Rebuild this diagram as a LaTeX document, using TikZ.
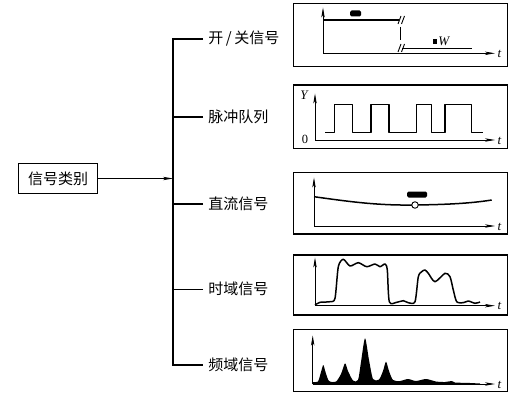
\documentclass[tikz,border=0pt]{standalone}
\usepackage{fontspec}
\setmainfont{Liberation Serif}
\newfontfamily\cjk{Noto Sans CJK SC}
\usetikzlibrary{arrows.meta}
\begin{document}
\begin{tikzpicture}[x=1pt,y=-1pt,
  line width=0.8pt,
  axis/.style={line width=0.8pt,-{Stealth[length=10pt,width=3.4pt,inset=2.5pt]}},
  sig/.style={line width=1.5pt,line join=round},
  sigbox/.style={draw,line width=1.1pt,minimum width=213.5pt,inner sep=0pt},
  lbl/.style={font=\cjk\fontsize{15}{15}\selectfont,anchor=west,inner sep=5pt},
  var/.style={font=\fontsize{13}{13}\selectfont\itshape,inner sep=0pt},
  num/.style={font=\fontsize{12.5}{12.5}\selectfont,inner sep=0pt},
  blob/.style={fill,rounded corners=1.5pt}]
\useasboundingbox (0,0) rectangle (526,401);

% left tree
\node[draw,line width=1.1pt,minimum width=79.5pt,minimum height=30pt,inner sep=0pt,
      font=\cjk\fontsize{15}{15}\selectfont] (cls) at (58,178.5) {信号类别};
\coordinate (bus) at (173,178.5);
\node[lbl] (l1) at (203,39) {开\,/\,关信号};
\node[lbl] (l2) at (203,117) {脉冲队列};
\node[lbl] (l3) at (203,204) {直流信号};
\node[lbl] (l4) at (203,289.3) {时域信号};
\node[lbl] (l5) at (203,365) {频域信号};
\draw[line width=1.1pt] (l1.west) -- (l1.west -| bus) -- (l5.west -| bus) -- (l5.west);
\draw[line width=1.1pt] (l2.west) -- (l2.west -| bus);
\draw[line width=1.1pt] (l3.west) -- (l3.west -| bus);
\draw[line width=1.1pt] (l4.west) -- (l4.west -| bus);
\draw[line width=0.9pt,-{Stealth[length=10pt,width=3.4pt,inset=2.5pt]}] (cls.east) -- (bus);

% signal boxes
\node[sigbox,minimum height=63.4pt] (b1) at (400.3,35) {};
\node[sigbox,minimum height=63.3pt] (b2) at (400.3,116.7) {};
\node[sigbox,minimum height=61.3pt] (b3) at (400.3,203.3) {};
\node[sigbox,minimum height=60pt] (b4) at (400.3,285) {};
\node[sigbox,minimum height=62.4pt] (b5) at (400.3,360.5) {};

% 1: on/off
\coordinate (o1) at (323,53.3);
\draw[axis] (o1) -- (323,7.5);
\draw[axis] (o1) -- (495,53.3);
\node[var] (t1) at (499.5,54) {t};
\draw[sig] (323,20) -- (399,20);
\draw[line width=0.9pt] (398,24) -- (401,16) (401.5,24) -- (404.5,16);
\draw[line width=0.9pt] (400,27) -- (400,40);
\draw[line width=0.9pt] (398,52) -- (401,44) (401.5,52) -- (404.5,44);
\draw[sig] (402,48.5) -- (471.5,48.5);
\fill[blob] (350,10.5) rectangle (361,16.5);
\fill (432.5,39) rectangle (437,44);
\node[var,anchor=west] (w1) at (438,41.5) {W};

% 2: pulse train
\coordinate (o2) at (315,140);
\draw[axis] (o2) -- (315,93.5);
\draw[axis] (o2) -- (495,140);
\node[var] (t2) at (499.5,140.5) {t};
\node[var] (y2) at (304,95) {Y};
\node[num] (z2) at (305,139.5) {0};
\draw[sig] (325,132.7) -- (334.3,132.7) -- (334.3,104.3) -- (352.3,104.3) -- (352.3,132.7)
  -- (371,132.7) -- (371,104.3) -- (389,104.3) -- (389,132.7)
  -- (416.7,132.7) -- (416.7,104.3) -- (431.7,104.3) -- (431.7,132.7)
  -- (445,132.7) -- (445,104.3) -- (471.7,104.3) -- (471.7,132.7) -- (483.3,132.7);

% 3: DC
\coordinate (o3) at (314,226);
\draw[axis] (o3) -- (314,177.5);
\draw[axis] (o3) -- (495,226);
\node[var] (t3) at (499.5,226.5) {t};
\draw[sig] (314,196.7) .. controls (355,202.5) and (380,205.5) .. (415,205)
  .. controls (445,204.6) and (470,203.5) .. (491.7,200);
\node[circle,draw,fill=white,line width=0.9pt,minimum size=6.5pt,inner sep=0pt] (dc) at (415,205) {};
\fill[blob] (407,191.5) rectangle (427,197.5);

% 4: time domain
\coordinate (o4) at (315,305.7);
\draw[axis] (o4) -- (315,257.5);
\draw[axis] (o4) -- (495,305.7);
\node[var] (t4) at (499.5,306.2) {t};
\draw[sig] plot[smooth,tension=0.45] coordinates {
 (315,305) (320,302.3) (330,301.7) (335,298.3) (338.3,266.7) (343.3,259.3) (350,266)
 (358.3,262.7) (366.7,266.7) (375,264) (380,266.7) (385,264) (387.3,270) (389.3,301.7)
 (396.7,302.3) (403.3,300.7) (408.3,302.7) (415,301.7) (418.3,276.7) (421.7,271.7)
 (425,270) (428.3,273.3) (435,281.7) (445,273.3) (450,276.7) (453.3,290) (456.7,301.7)
 (463.3,302.7) (468.3,301) (475,303.3) (480,302)};

% 5: frequency domain
\coordinate (o5) at (312.7,384);
\fill plot[smooth,tension=0.45] coordinates {
 (313,382) (318,381.5) (321,372) (323.3,365) (325.5,372) (329,381) (336,381.5) (341,374)
 (345,363.3) (348,371) (353,380.5) (358,380) (361,362) (365,338.3) (369,360) (373,379)
 (379,379.5) (383,371) (386,361.7) (389,371) (393,380) (400,381) (408,379) (416,381)
 (426,379) (436,381.5) (445,382) (451.7,381) (455,382.5) (470,383) (480,383.5)}
 -- (480,384) -- (313,384) -- cycle;
\draw[axis] (o5) -- (312.7,335.5);
\draw[axis] (o5) -- (495,384);
\node[var] (t5) at (499.5,384.5) {t};
\end{tikzpicture}
\end{document}
